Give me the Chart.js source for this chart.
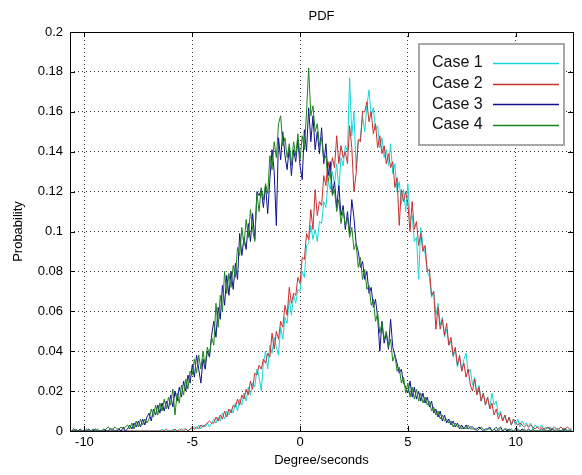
<!DOCTYPE html>
<html>
<head>
<meta charset="utf-8">
<title>PDF</title>
<script src="https://cdn.jsdelivr.net/npm/chart.js@4.4.0/dist/chart.umd.min.js"></script>
<style>
  html, body { margin: 0; padding: 0; background: #fff; }
  #pdfChart { display: block; }
</style>
</head>
<body>
<canvas id="pdfChart" width="582" height="475"></canvas>
<script>
// histogram bins: first bin centre and width (Degree/seconds)
const binStart = -10.6;
const binWidth = 0.1;

const xTicks = [-10, -5, 0, 5, 10];
const seriesNames = ['Case 1', 'Case 2', 'Case 3', 'Case 4'];
const seriesColors = ['#18d6d6', '#c83030', '#10108e', '#1e821e'];

// values, one row per unit of x
const case1 = [
  0, 0, 0, 0, 0, 0,
  0, 0, 0, 0, 0, 0, 0, 0, 0, 0,
  0, 0, 0, 0, 0, 0, 0, 0, 0, 0,
  0, 0, 0, 0, 0, 0, 0, 0, 0, 0,
  0, 0, 0, 0, 0, 0, 0.001, 0, 0, 0,
  0, 0.001, 0, 0, 0.001, 0, 0.001, 0.001, 0, 0.001,
  0.001, 0.002, 0.001, 0.003, 0.001, 0.003, 0.002, 0.004, 0.002, 0.004,
  0.006, 0.004, 0.007, 0.005, 0.009, 0.006, 0.010, 0.008, 0.011, 0.009,
  0.014, 0.010, 0.016, 0.013, 0.019, 0.015, 0.022, 0.018, 0.024, 0.022,
  0.031, 0.027, 0.020, 0.034, 0.040, 0.031, 0.043, 0.039, 0.047, 0.042,
  0.038, 0.052, 0.046, 0.057, 0.054, 0.066, 0.058, 0.068, 0.064, 0.071,
  0.070, 0.080, 0.077, 0.093, 0.094, 0.103, 0.096, 0.101, 0.095, 0.105,
  0.104, 0.115, 0.112, 0.125, 0.121, 0.130, 0.124, 0.134, 0.121, 0.137,
  0.133, 0.143, 0.140, 0.177, 0.148, 0.160, 0.131, 0.145, 0.147, 0.158,
  0.150, 0.163, 0.171, 0.158, 0.162, 0.151, 0.153, 0.142, 0.147, 0.137,
  0.141, 0.133, 0.144, 0.129, 0.134, 0.120, 0.125, 0.114, 0.121, 0.110,
  0.124, 0.106, 0.108, 0.095, 0.097, 0.076, 0.102, 0.093, 0.089, 0.080,
  0.077, 0.067, 0.070, 0.058, 0.064, 0.053, 0.057, 0.047, 0.051, 0.043,
  0.045, 0.037, 0.041, 0.032, 0.037, 0.030, 0.036, 0.039, 0.029, 0.031,
  0.023, 0.027, 0.019, 0.023, 0.015, 0.019, 0.013, 0.017, 0.012, 0.019,
  0.013, 0.015, 0.008, 0.010, 0.005, 0.008, 0.004, 0.007, 0.003, 0.006,
  0.003, 0.006, 0.002, 0.005, 0.003, 0.004, 0.002, 0.004, 0.001, 0.003,
  0.002, 0.002, 0.003, 0.001, 0.002, 0.001, 0.002, 0.001, 0.001, 0.001,
  0.001, 0, 0.001, 0.001, 0, 0.001, 0
];

const case2 = [
  0, 0, 0, 0, 0, 0,
  0, 0, 0, 0, 0, 0, 0, 0, 0, 0,
  0, 0, 0, 0, 0, 0, 0, 0, 0, 0,
  0, 0, 0, 0, 0, 0, 0, 0, 0, 0,
  0, 0, 0, 0, 0, 0, 0, 0, 0.001, 0,
  0, 0, 0.001, 0, 0, 0.001, 0, 0.001, 0, 0.001,
  0.002, 0.001, 0.002, 0.001, 0.003, 0.002, 0.003, 0.004, 0.005, 0.004,
  0.004, 0.007, 0.005, 0.008, 0.006, 0.010, 0.007, 0.011, 0.009, 0.013,
  0.012, 0.016, 0.013, 0.018, 0.016, 0.021, 0.018, 0.025, 0.021, 0.029,
  0.028, 0.033, 0.031, 0.036, 0.034, 0.039, 0.037, 0.049, 0.041, 0.050,
  0.046, 0.055, 0.052, 0.063, 0.058, 0.072, 0.064, 0.069, 0.068, 0.077,
  0.074, 0.087, 0.086, 0.099, 0.096, 0.111, 0.101, 0.121, 0.108, 0.115,
  0.113, 0.128, 0.123, 0.135, 0.129, 0.137, 0.132, 0.148, 0.134, 0.143,
  0.137, 0.140, 0.134, 0.153, 0.142, 0.120, 0.129, 0.146, 0.145, 0.160,
  0.160, 0.165, 0.155, 0.160, 0.149, 0.154, 0.142, 0.148, 0.139, 0.143,
  0.134, 0.139, 0.132, 0.135, 0.122, 0.127, 0.103, 0.121, 0.115, 0.120,
  0.114, 0.100, 0.115, 0.101, 0.105, 0.093, 0.099, 0.090, 0.093, 0.080,
  0.081, 0.068, 0.070, 0.051, 0.062, 0.051, 0.056, 0.048, 0.054, 0.043,
  0.047, 0.038, 0.042, 0.033, 0.038, 0.030, 0.034, 0.027, 0.031, 0.023,
  0.020, 0.026, 0.018, 0.022, 0.015, 0.019, 0.013, 0.017, 0.011, 0.014,
  0.008, 0.011, 0.006, 0.009, 0.005, 0.008, 0.004, 0.007, 0.003, 0.006,
  0.004, 0.003, 0.004, 0.003, 0.002, 0.003, 0.002, 0.003, 0.002, 0.001,
  0.002, 0.001, 0.002, 0.001, 0.001, 0.002, 0.001, 0.001, 0.002, 0.001,
  0.001, 0.002, 0.001, 0.001, 0.002, 0.001, 0.001
];

const case3 = [
  0, 0.001, 0, 0, 0.001, 0,
  0, 0, 0.001, 0, 0, 0.001, 0, 0, 0, 0.001,
  0, 0, 0.001, 0.001, 0, 0, 0.001, 0, 0.002, 0,
  0.001, 0.003, 0.001, 0.004, 0.002, 0.005, 0.002, 0.006, 0.003, 0.007,
  0.009, 0.005, 0.011, 0.008, 0.013, 0.009, 0.014, 0.010, 0.015, 0.011,
  0.018, 0.012, 0.020, 0.015, 0.022, 0.017, 0.025, 0.020, 0.028, 0.024,
  0.033, 0.027, 0.038, 0.031, 0.024, 0.036, 0.031, 0.040, 0.037, 0.048,
  0.055, 0.047, 0.062, 0.056, 0.073, 0.063, 0.078, 0.068, 0.080, 0.071,
  0.084, 0.076, 0.099, 0.088, 0.097, 0.091, 0.104, 0.095, 0.109, 0.096,
  0.120, 0.118, 0.121, 0.112, 0.123, 0.109, 0.126, 0.141, 0.130, 0.103,
  0.147, 0.136, 0.150, 0.138, 0.131, 0.142, 0.128, 0.141, 0.135, 0.146,
  0.133, 0.126, 0.151, 0.140, 0.162, 0.145, 0.158, 0.141, 0.150, 0.139,
  0.152, 0.134, 0.144, 0.128, 0.135, 0.119, 0.125, 0.112, 0.123, 0.108,
  0.113, 0.101, 0.110, 0.099, 0.116, 0.107, 0.094, 0.090, 0.082, 0.085,
  0.076, 0.080, 0.069, 0.072, 0.062, 0.066, 0.057, 0.040, 0.055, 0.044,
  0.049, 0.041, 0.056, 0.042, 0.038, 0.034, 0.029, 0.031, 0.024, 0.022,
  0.019, 0.025, 0.017, 0.022, 0.016, 0.020, 0.015, 0.019, 0.014, 0.017,
  0.012, 0.015, 0.009, 0.011, 0.007, 0.010, 0.005, 0.008, 0.004, 0.006,
  0.003, 0.005, 0.002, 0.004, 0.001, 0.003, 0.001, 0.003, 0.001, 0.002,
  0.002, 0.001, 0.001, 0.002, 0.001, 0, 0.001, 0.001, 0.002, 0,
  0.001, 0, 0.001, 0.002, 0, 0.001, 0, 0.001, 0, 0,
  0.001, 0, 0, 0.001, 0, 0, 0.001, 0, 0, 0,
  0, 0, 0.001, 0, 0, 0, 0, 0.001, 0, 0,
  0, 0, 0, 0.001, 0, 0, 0
];

const case4 = [
  0, 0, 0.001, 0, 0, 0,
  0, 0.001, 0, 0, 0.001, 0, 0.001, 0, 0, 0,
  0.001, 0.002, 0.001, 0, 0.002, 0.001, 0.001, 0.002, 0.001, 0.002,
  0.003, 0.001, 0.004, 0.001, 0.005, 0.002, 0.006, 0.003, 0.006, 0.004,
  0.006, 0.011, 0.007, 0.013, 0.008, 0.014, 0.010, 0.016, 0.011, 0.017,
  0.013, 0.021, 0.008, 0.019, 0.014, 0.023, 0.018, 0.026, 0.021, 0.030,
  0.028, 0.036, 0.029, 0.038, 0.031, 0.040, 0.033, 0.042, 0.038, 0.047,
  0.043, 0.064, 0.052, 0.068, 0.060, 0.080, 0.069, 0.079, 0.072, 0.083,
  0.077, 0.092, 0.088, 0.102, 0.093, 0.106, 0.097, 0.111, 0.101, 0.095,
  0.119, 0.110, 0.122, 0.116, 0.124, 0.119, 0.138, 0.131, 0.145, 0.137,
  0.154, 0.158, 0.143, 0.147, 0.137, 0.144, 0.133, 0.145, 0.138, 0.149,
  0.136, 0.148, 0.141, 0.160, 0.182, 0.158, 0.163, 0.150, 0.154, 0.143,
  0.147, 0.136, 0.138, 0.125, 0.130, 0.118, 0.121, 0.110, 0.116, 0.104,
  0.111, 0.103, 0.107, 0.097, 0.102, 0.091, 0.094, 0.082, 0.087, 0.076,
  0.081, 0.071, 0.073, 0.063, 0.066, 0.055, 0.059, 0.049, 0.054, 0.046,
  0.050, 0.042, 0.046, 0.035, 0.038, 0.030, 0.032, 0.024, 0.027, 0.019,
  0.024, 0.017, 0.022, 0.016, 0.021, 0.015, 0.019, 0.014, 0.017, 0.013,
  0.015, 0.010, 0.012, 0.008, 0.010, 0.006, 0.008, 0.005, 0.006, 0.004,
  0.005, 0.002, 0.004, 0.002, 0.003, 0.001, 0.002, 0.001, 0.003, 0.001,
  0.001, 0.001, 0, 0.001, 0.002, 0.001, 0, 0.001, 0.001, 0,
  0.001, 0.002, 0, 0.001, 0, 0.001, 0.001, 0, 0.001, 0,
  0, 0.001, 0, 0, 0.001, 0, 0, 0, 0.001, 0,
  0, 0, 0, 0.001, 0, 0, 0.001, 0, 0, 0,
  0, 0, 0.001, 0, 0, 0, 0
];

const allSeries = [case1, case2, case3, case4];

function toPoints(values) {
  return values.map((v, i) => ({ x: +(binStart + i * binWidth).toFixed(2), y: v }));
}

const FONT = '"Liberation Sans", Arial, Helvetica, sans-serif';

// MATLAB-like frame: box, inward ticks, title, axis labels, legend
const matlabFrame = {
  id: 'matlabFrame',
  afterDraw(chart) {
    const { ctx, chartArea: a, scales: { x, y } } = chart;
    ctx.save();
    ctx.strokeStyle = '#000';
    ctx.lineWidth = 1;
    ctx.strokeRect(a.left + 0.5, a.top + 0.5, a.right - a.left, a.bottom - a.top);

    ctx.beginPath();
    x.ticks.forEach(t => {
      const px = Math.round(x.getPixelForValue(t.value)) + 0.5;
      ctx.moveTo(px, a.bottom); ctx.lineTo(px, a.bottom - 5);
      ctx.moveTo(px, a.top); ctx.lineTo(px, a.top + 5);
    });
    y.ticks.forEach(t => {
      const py = Math.round(y.getPixelForValue(t.value)) + 0.5;
      ctx.moveTo(a.left, py); ctx.lineTo(a.left + 5, py);
      ctx.moveTo(a.right, py); ctx.lineTo(a.right - 5, py);
    });
    ctx.stroke();

    ctx.fillStyle = '#000';
    ctx.font = '13px ' + FONT;
    ctx.textAlign = 'center';
    ctx.textBaseline = 'middle';
    const cx = (a.left + a.right) / 2;
    ctx.fillText('PDF', cx, 16);
    ctx.fillText('Degree/seconds', cx, 460);
    ctx.save();
    ctx.translate(18, (a.top + a.bottom) / 2);
    ctx.rotate(-Math.PI / 2);
    ctx.fillText('Probability', 0, 0);
    ctx.restore();

    // legend box
    const lx = 419, ly = 44, lw = 145, lh = 101;
    ctx.fillStyle = '#fff';
    ctx.fillRect(lx, ly, lw, lh);
    ctx.strokeStyle = '#a8a8a8';
    ctx.lineWidth = 2;
    ctx.strokeRect(lx, ly, lw, lh);
    ctx.font = '16px ' + FONT;
    ctx.textAlign = 'left';
    seriesNames.forEach((name, i) => {
      const ty = 63 + i * 20.6;
      ctx.fillStyle = '#111';
      ctx.fillText(name, 432, ty);
      ctx.strokeStyle = seriesColors[i];
      ctx.lineWidth = 1.5;
      ctx.beginPath();
      ctx.moveTo(493, Math.round(ty) + 0.5);
      ctx.lineTo(559, Math.round(ty) + 0.5);
      ctx.stroke();
    });
    ctx.restore();
  }
};

const ctx = document.getElementById('pdfChart').getContext('2d');
new Chart(ctx, {
  type: 'line',
  data: {
    datasets: allSeries.map((vals, i) => ({
      label: seriesNames[i],
      data: toPoints(vals),
      borderColor: seriesColors[i],
      borderWidth: 1,
      pointRadius: 0,
      tension: 0,
      fill: false,
      order: allSeries.length - 1 - i
    }))
  },
  options: {
    responsive: false,
    animation: false,
    devicePixelRatio: 1,
    layout: { padding: { left: 0, right: 9, top: 32, bottom: 0 } },
    plugins: { legend: { display: false }, tooltip: { enabled: false }, title: { display: false } },
    scales: {
      x: {
        type: 'linear',
        min: -10.67,
        max: 12.66,
        afterFit: s => { s.height = 44; },
        afterBuildTicks: s => { s.ticks = xTicks.map(v => ({ value: v })); },
        ticks: {
          stepSize: 5,
          includeBounds: false,
          padding: 4,
          color: '#000',
          font: { family: FONT, size: 13 },
          maxRotation: 0
        },
        grid: { color: '#333', lineWidth: 1, drawTicks: false },
        border: { display: false, dash: [1, 3] }
      },
      y: {
        min: 0,
        max: 0.2,
        afterFit: s => { s.width = 70; },
        ticks: {
          stepSize: 0.02,
          padding: 7,
          color: '#000',
          font: { family: FONT, size: 13 },
          callback: v => String(+v.toFixed(2))
        },
        grid: { color: '#333', lineWidth: 1, drawTicks: false },
        border: { display: false, dash: [1, 3] }
      }
    }
  },
  plugins: [matlabFrame]
});
</script>
</body>
</html>
